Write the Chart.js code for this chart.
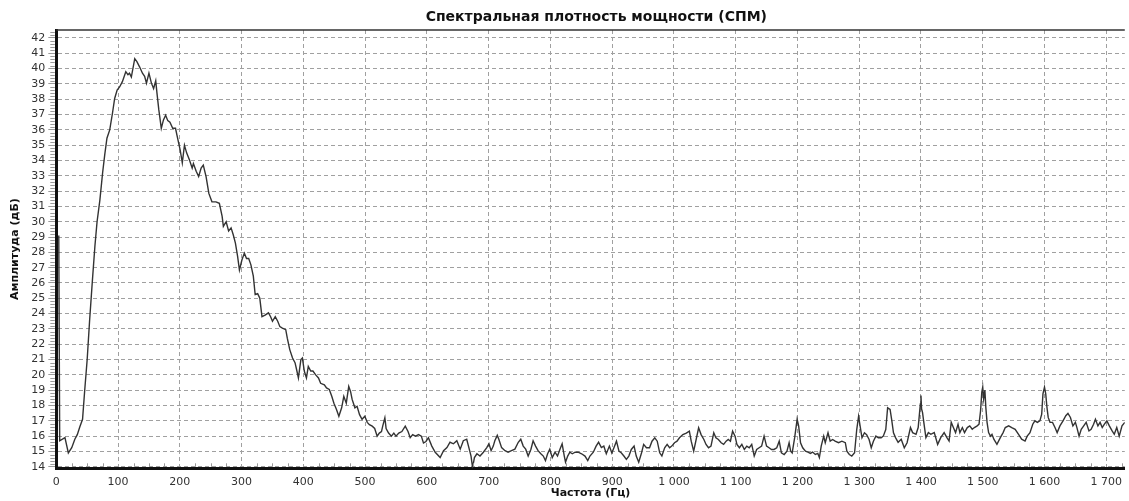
<!DOCTYPE html>
<html>
<head>
<meta charset="utf-8">
<script src="https://cdn.jsdelivr.net/npm/chart.js@4/dist/chart.umd.min.js"></script>
<style>
  html, body { margin: 0; padding: 0; background: #fff; overflow: hidden; }
  #wrap { width: 1129px; height: 501px; position: relative; }
</style>
</head>
<body>
<div id="wrap"><canvas id="psd"></canvas></div>
<script>
// Power spectral density: frequency bins (Hz) and amplitudes (dB)
const freqHz = [
  4, 5.5, 14, 19.5, 25, 30, 34, 38, 42.5, 46, 50, 54, 58.5, 62.5, 66, 70.5, 75, 78.5, 82, 86.5,
  91, 94.5, 98.5, 102.5, 107, 112.5, 116, 118.5, 121.5, 127, 130.5, 135, 139.5, 143, 146, 150, 154, 157.5, 161, 163,
  166, 170, 173.5, 177, 180.5, 184, 188.5, 193, 197, 200.5, 204, 207.5, 211, 215.5, 220, 222, 226.5, 230.5, 234.5, 238,
  242.5, 247, 252, 258.5, 264, 268.5, 270.5, 275, 279, 283, 286.5, 290, 293.5,
  296.5, 300.5, 304.5, 308, 311.5, 315, 319, 322, 326, 329.5, 333, 338, 343.5, 347, 350, 354.5, 358.5, 362, 366, 371.5,
  374, 378, 382.5, 386.5, 388.5, 392, 396, 398.5, 401.5, 405, 408, 412, 415.5, 420, 424.5, 428, 434, 437.5, 442, 446,
  449.5, 453.5, 457.5, 462, 465.5, 469.5, 473.5, 476.5, 479, 483.5, 487, 491, 495, 499.5, 503.5, 507, 511.5, 515.5, 519.5, 523,
  526.5, 528.5, 532, 534, 538, 542.5, 546.5, 550, 554.5, 559.5, 565, 569.5, 573, 577, 581.5, 586.5, 591, 594.5, 598.5,
  602.5, 608, 613.5, 621.5, 627, 632.5, 637.5, 643, 648.5, 654, 659, 664.5, 668, 671.5, 674, 677, 681, 686, 691.5, 697,
  700.5, 704, 707.5, 710, 714, 716.5, 721, 726.5, 731.5, 737, 742.5, 748, 752, 756, 760, 764, 768.5, 772, 776, 780,
  784.5, 788.5, 792, 795.5, 799, 803, 807.5, 811.5, 815.5, 819, 822.5, 824.5, 828, 831.5, 835.5, 840, 845, 850.5, 856, 860.5,
  864, 869.5, 874, 878, 882.5, 886.5, 890.5, 895.5,
  899.5, 903.5, 907, 911, 915, 919, 923, 927, 931, 935.5, 939, 943, 947.5, 951, 955.5, 960.5, 964.5, 969, 973, 977,
  980.5, 985, 989, 993, 996.5, 1001, 1005, 1009, 1014.5, 1020, 1025, 1028, 1032, 1036, 1040, 1044, 1048.5, 1052, 1056, 1060,
  1064.5, 1068, 1072, 1076.5, 1080.5, 1084.5, 1088, 1091.5, 1095, 1099, 1102, 1106, 1110, 1114, 1118, 1122, 1126, 1130, 1134, 1138,
  1142, 1146, 1150, 1154, 1158, 1162, 1166.5, 1170.5, 1174, 1178.5, 1183, 1186.5, 1189,
  1191.5, 1195.5, 1199.5, 1202, 1205, 1208.5, 1213, 1217, 1221, 1224.5, 1229, 1233, 1235.5, 1238.5, 1242.5, 1245, 1249.5, 1253, 1257, 1261,
  1266.5, 1272, 1277.5, 1280, 1284, 1288, 1292.5, 1296, 1299, 1301.5, 1304.5, 1308.5, 1312, 1316, 1319.5, 1323, 1327, 1331, 1335.5, 1339,
  1343, 1346, 1350, 1352.5, 1355.5, 1359,
  1363, 1368, 1373, 1377.5, 1383, 1386.5, 1392, 1395.5, 1399, 1400, 1401, 1402.5, 1405, 1408, 1412, 1416, 1421.5, 1427, 1432, 1437.5,
  1442, 1445.5, 1449, 1452.5, 1456, 1460, 1463, 1467, 1470.5, 1475, 1479, 1483, 1486.5, 1491, 1494, 1496.5, 1498.5, 1500, 1501.5, 1503.5,
  1505, 1507, 1509.5, 1512.5, 1515, 1518, 1523, 1528.5, 1533, 1536.5, 1542, 1547, 1552.5, 1558, 1563, 1568.5, 1572, 1576.5, 1581, 1584.5,
  1588.5, 1592.5, 1595.5, 1597.5, 1600, 1602, 1604, 1606, 1609, 1613, 1617, 1620.5, 1625, 1630, 1634.5, 1638, 1642, 1646, 1650, 1652.5,
  1656, 1659.5, 1663.5, 1667.5, 1672, 1675.5, 1679.5, 1682.5, 1686.5, 1690, 1693.5, 1697, 1701, 1705, 1709.5, 1713, 1717, 1721, 1725.5, 1730
];
const ampDb = [
  29.1, 15.7, 15.9, 14.9, 15.25, 15.8, 16.1, 16.6, 17.1, 19.0, 21.0, 23.6, 26.2, 28.4, 30.0, 31.4, 33.2, 34.4, 35.45, 36.0,
  37.1, 38.05, 38.6, 38.8, 39.15, 39.8, 39.6, 39.7, 39.45, 40.65, 40.45, 40.1, 39.7, 39.5, 39.05, 39.7, 39.05, 38.7, 39.2, 38.4,
  37.3, 36.1, 36.65, 36.95, 36.6, 36.5, 36.1, 36.1, 35.35, 34.7, 33.85, 35.0, 34.5, 34.05, 33.5, 33.8, 33.3, 32.95, 33.5, 33.7,
  32.95, 31.85, 31.3, 31.3, 31.2, 30.35, 29.7, 30.0, 29.4, 29.6, 29.15, 28.6, 27.75,
  26.85, 27.5, 27.95, 27.6, 27.6, 27.2, 26.45, 25.25, 25.3, 25.0, 23.8, 23.9, 24.05, 23.8, 23.5, 23.8, 23.5, 23.15, 23.05, 22.95,
  22.4, 21.65, 21.1, 20.8, 20.45, 19.8, 21.0, 21.1, 20.25, 19.8, 20.55, 20.25, 20.25, 20.0, 19.8, 19.45, 19.35, 19.15, 19.05, 18.6,
  18.15, 17.75, 17.3, 17.85, 18.6, 18.15, 19.25, 18.9, 18.4, 17.85, 17.95, 17.4, 17.1, 17.3, 16.9, 16.75, 16.65, 16.5, 16.0, 16.2,
  16.3, 16.65, 17.2, 16.5, 16.2, 16.0, 16.2, 16.0, 16.2, 16.3, 16.65, 16.3, 15.9, 16.1, 16.0, 16.1, 16.0, 15.55, 15.65,
  15.9, 15.35, 14.95, 14.6, 15.05, 15.25, 15.6, 15.5, 15.7, 15.15, 15.7, 15.8, 15.25, 14.7, 13.95, 14.6, 14.85, 14.7, 14.95, 15.25,
  15.5, 15.05, 15.35, 15.7, 16.05, 15.8, 15.25, 15.05, 14.95, 15.05, 15.15, 15.6, 15.8, 15.35, 15.15, 14.7, 15.15, 15.7, 15.35, 15.05,
  14.85, 14.7, 14.4, 14.85, 15.15, 14.6, 14.95, 14.7, 15.15, 15.5, 14.7, 14.3, 14.7, 14.95, 14.85, 14.95, 14.95, 14.85, 14.7, 14.4,
  14.7, 14.95, 15.35, 15.6, 15.25, 15.35, 14.85, 15.35,
  14.9, 15.3, 15.67, 15.02, 14.9, 14.7, 14.48, 14.7, 15.13, 15.35, 14.7, 14.3, 14.9, 15.46, 15.24, 15.24, 15.67, 15.89, 15.67, 14.91,
  14.7, 15.24, 15.46, 15.24, 15.35, 15.57, 15.67, 15.89, 16.1, 16.2, 16.33, 15.67, 15.02, 15.78, 16.54, 16.1, 15.78, 15.46, 15.24, 15.35,
  16.22, 15.89, 15.78, 15.57, 15.46, 15.67, 15.78, 15.67, 16.33, 16.0, 15.46, 15.24, 15.46, 15.13, 15.35, 15.24, 15.46, 14.7, 15.13, 15.24,
  15.35, 16.0, 15.35, 15.24, 15.13, 15.13, 15.24, 15.67, 14.91, 14.8, 15.02, 15.57, 15.02,
  14.9, 15.9, 17.1, 16.65, 15.57, 15.24, 15.02, 14.96, 14.87, 14.96, 14.8, 14.87, 14.6, 15.35, 16.0, 15.57, 16.22, 15.67, 15.78, 15.67,
  15.57, 15.67, 15.57, 15.02, 14.8, 14.7, 14.91, 16.43, 17.3, 16.65, 15.89, 16.22, 16.1, 15.78, 15.24, 15.67, 16.0, 15.89, 15.89, 16.0,
  16.43, 17.85, 17.74, 17.1, 16.22, 15.89,
  15.6, 15.8, 15.24, 15.57, 16.56, 16.23, 16.12, 16.56, 18.1, 18.65, 17.77, 17.55, 16.78, 15.9, 16.23, 16.12, 16.23, 15.46, 15.9, 16.23,
  15.9, 15.68, 16.9, 16.56, 16.23, 16.78, 16.23, 16.56, 16.23, 16.56, 16.67, 16.45, 16.56, 16.67, 16.78, 17.66, 18.87, 19.2, 18.43, 19.0,
  17.88, 16.9, 16.23, 16.0, 16.12, 15.8, 15.46, 15.9, 16.23, 16.56, 16.67, 16.56, 16.45, 16.12, 15.8, 15.68, 16.0, 16.23, 16.78, 17.0,
  16.9, 17.0, 17.44, 18.76, 19.2, 18.76, 17.88, 17.22, 16.9, 16.9, 16.56, 16.23, 16.67, 17.0, 17.33, 17.48, 17.22, 16.67, 16.9, 16.56,
  16.0, 16.45, 16.67, 16.9, 16.34, 16.45, 16.78, 17.1, 16.67, 16.9, 16.56, 16.78, 17.0, 16.67, 16.34, 16.12, 16.56, 16.0, 16.67, 16.9
];

// Axis ticks
const xTickValues = [0, 100, 200, 300, 400, 500, 600, 700, 800, 900, 1000, 1100, 1200, 1300, 1400, 1500, 1600, 1700];
const yTickValues = [14, 15, 16, 17, 18, 19, 20, 21, 22, 23, 24, 25, 26, 27, 28, 29, 30, 31, 32, 33, 34, 35, 36, 37, 38, 39, 40, 41, 42];

const chartTitle = 'Спектральная плотность мощности (СПМ)';
const xAxisTitle = 'Частота (Гц)';
const yAxisTitle = 'Амплитуда (дБ)';

const FONT = '"DejaVu Sans", Verdana, sans-serif';

// Thousands separated by a space: 1000 -> "1 000"
function fmtHz(v) {
  return String(v).replace(/\B(?=(\d{3})+(?!\d))/g, ' ');
}

// Caption, top frame line and the fine ruler ticks along both axes
const decorPlugin = {
  id: 'decor',
  afterDraw(chart) {
    const { ctx, chartArea: a, scales: { x, y } } = chart;
    ctx.save();
    // top frame line
    ctx.strokeStyle = '#333';
    ctx.lineWidth = 1.5;
    ctx.beginPath();
    ctx.moveTo(a.left, a.top);
    ctx.lineTo(a.right, a.top);
    ctx.stroke();

    // minor ticks on the amplitude axis (every 0.2 dB)
    ctx.strokeStyle = '#9a9a9a';
    ctx.lineWidth = 1;
    ctx.beginPath();
    for (let k = Math.ceil(y.min * 5); k <= Math.floor(y.max * 5); k++) {
      if (k % 5 === 0) continue;
      const py = Math.round(y.getPixelForValue(k / 5)) + 0.5;
      ctx.moveTo(a.left - 6, py);
      ctx.lineTo(a.left - 1.5, py);
    }
    // minor ticks on the frequency axis (every 25 Hz)
    for (let f = 25; f < x.max; f += 25) {
      if (f % 100 === 0) continue;
      const px = Math.round(x.getPixelForValue(f)) + 0.5;
      ctx.moveTo(px, a.bottom - 1.5);
      ctx.lineTo(px, a.bottom - 5);
    }
    ctx.stroke();

    // caption
    ctx.fillStyle = '#111';
    ctx.font = 'bold 14px ' + FONT;
    ctx.textAlign = 'right';
    ctx.textBaseline = 'middle';
    ctx.fillText(chartTitle, 767, 17);
    ctx.restore();
  }
};

new Chart(document.getElementById('psd'), {
  type: 'line',
  data: {
    datasets: [{
      data: freqHz.map((f, i) => ({ x: f, y: ampDb[i] })),
      borderColor: '#333',
      borderWidth: 1.4,
      pointRadius: 0,
      tension: 0,
      fill: false
    }]
  },
  options: {
    responsive: true,
    maintainAspectRatio: false,
    animation: false,
    devicePixelRatio: 1,
    layout: { padding: { top: 30, left: 0, right: 0, bottom: 0 } },
    plugins: {
      legend: { display: false },
      tooltip: { enabled: false },
      title: { display: false }
    },
    scales: {
      x: {
        type: 'linear',
        min: 0,
        max: 1730,
        afterBuildTicks: s => { s.ticks = xTickValues.map(v => ({ value: v })); },
        afterFit: s => { s.height = 32.7; },
        ticks: {
          callback: v => fmtHz(v),
          font: { family: FONT, size: 11 },
          color: '#333',
          padding: 7,
          maxRotation: 0,
          autoSkip: false
        },
        grid: { color: '#a0a0a0', lineWidth: 1, drawTicks: false },
        border: { display: true, color: '#111', width: 3, dash: [4, 3] },
        title: {
          display: true,
          text: xAxisTitle,
          color: '#111',
          font: { family: FONT, size: 11, weight: 'bold' },
          padding: { top: 0, bottom: 1 }
        }
      },
      y: {
        type: 'linear',
        min: 13.9,
        max: 42.52,
        afterBuildTicks: s => { s.ticks = yTickValues.map(v => ({ value: v })); },
        afterFit: s => { s.width = 56.3; },
        ticks: {
          font: { family: FONT, size: 11 },
          color: '#333',
          padding: 3,
          autoSkip: false
        },
        grid: { color: '#a0a0a0', lineWidth: 1, drawTicks: true, tickLength: 8, tickColor: '#9a9a9a' },
        border: { display: true, color: '#111', width: 3, dash: [4, 3] },
        title: {
          display: true,
          text: yAxisTitle,
          color: '#111',
          font: { family: FONT, size: 11, weight: 'bold' },
          padding: { top: 9, bottom: 0 }
        }
      }
    }
  },
  plugins: [decorPlugin]
});
</script>
</body>
</html>
